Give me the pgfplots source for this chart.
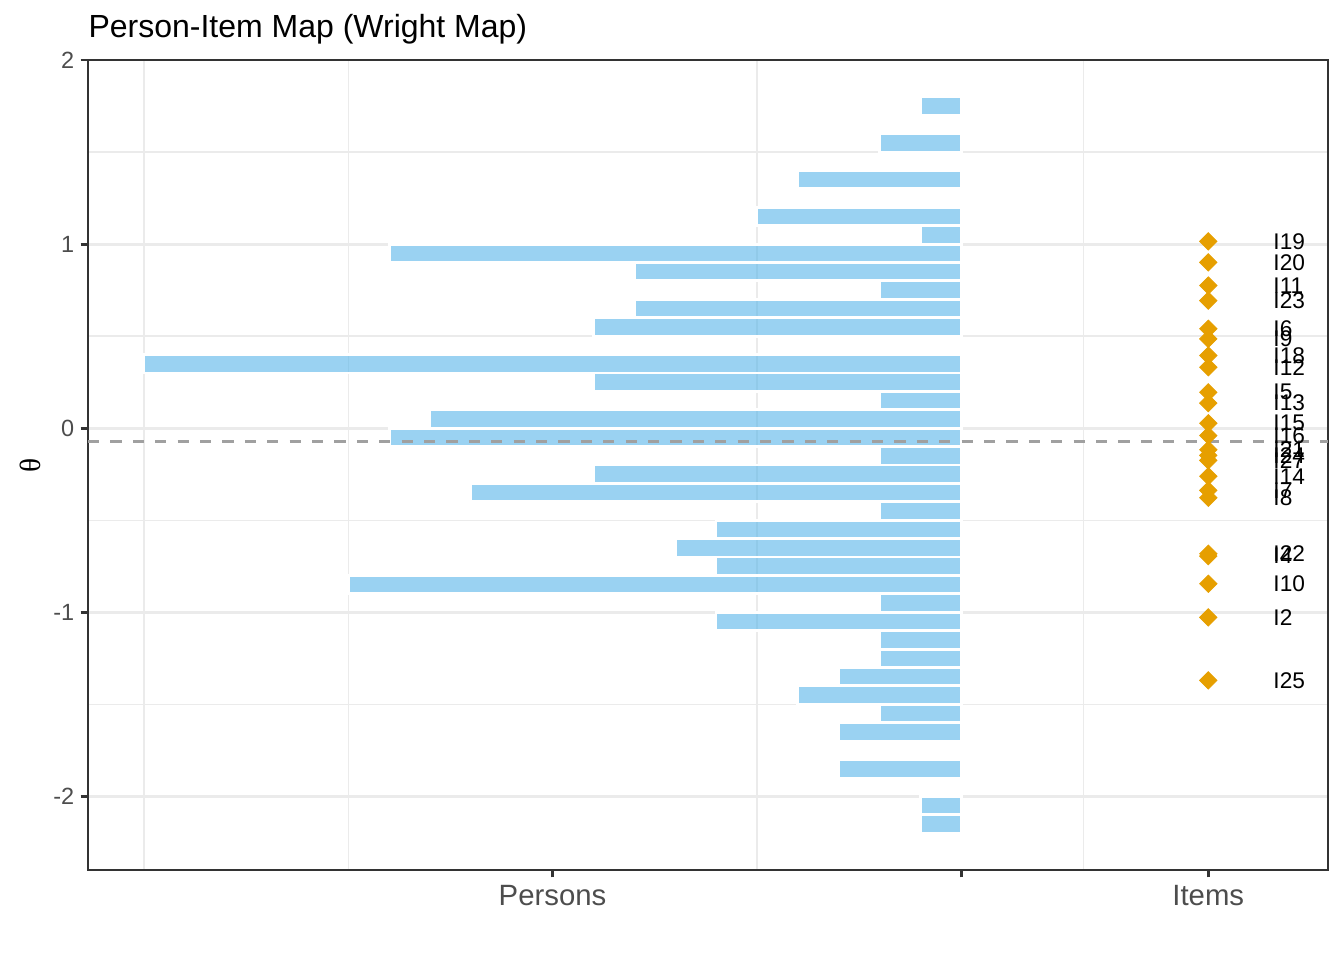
\documentclass[border=0pt]{standalone}
\usepackage{fontspec}
\setmainfont{Liberation Sans}
\newfontfamily\serifgreek{Liberation Serif}
\usepackage{pgfplots}
\usepackage{pgfplotstable}
\pgfplotsset{compat=1.18}
\definecolor{barblue}{HTML}{56B4E9}
\definecolor{itemorange}{HTML}{E69F00}
\definecolor{gridgray}{HTML}{EBEBEB}
\definecolor{grey20}{HTML}{333333}
\definecolor{grey30}{HTML}{4D4D4D}
\definecolor{meangray}{HTML}{A0A0A0}

\pgfplotstableread{
c theta
-1 1.75
-2 1.55
-4 1.35
-5 1.15
-1 1.05
-14 0.95
-8 0.85
-2 0.75
-8 0.65
-9 0.55
-20 0.35
-9 0.25
-2 0.15
-13 0.05
-14 -0.05
-2 -0.15
-9 -0.25
-12 -0.35
-2 -0.45
-6 -0.55
-7 -0.65
-6 -0.75
-15 -0.85
-2 -0.95
-6 -1.05
-2 -1.15
-2 -1.25
-3 -1.35
-4 -1.45
-2 -1.55
-3 -1.65
-3 -1.85
-1 -2.05
-1 -2.15
}\persons

\pgfplotstableread{
x theta label
6.05 1.015 I19
6.05 0.901 I20
6.05 0.775 I11
6.05 0.693 I23
6.05 0.540 I6
6.05 0.485 I9
6.05 0.395 I18
6.05 0.331 I12
6.05 0.195 I5
6.05 0.136 I13
6.05 0.027 I15
6.05 -0.040 I16
6.05 -0.117 I21
6.05 -0.148 I24
6.05 -0.175 I27
6.05 -0.261 I14
6.05 -0.338 I7
6.05 -0.378 I8
6.05 -0.682 I22
6.05 -0.695 I4
6.05 -0.845 I10
6.05 -1.028 I2
6.05 -1.370 I25
}\items

\begin{document}
\begin{tikzpicture}
\useasboundingbox (0,0) rectangle (504pt,360pt);
\begin{axis}[
  at={(33pt,33.75pt)}, anchor=south west,
  scale only axis, width=465pt, height=303.75pt,
  xmin=-21.37, xmax=8.98, ymin=-2.4, ymax=2.0,
  xtick={-10,0,6.05}, xticklabels={Persons,{},Items},
  minor xtick={-20,-15,-5,3},
  ytick={-2,-1,0,1,2}, yticklabels={-2,-1,0,1,2},
  minor ytick={-1.5,-0.5,0.5,1.5},
  xmajorgrids=false, xminorgrids=true,
  ymajorgrids=true, yminorgrids=true,
  major grid style={gridgray, line width=1.07pt},
  minor grid style={gridgray, line width=0.53pt},
  tick align=outside, tick pos=left,
  major tick length=2.75pt, minor tick length=0pt,
  tick style={grey20, line width=1.07pt},
  axis line style={grey20, line width=0.8pt},
  xticklabel style={font=\fontsize{11}{13}\selectfont, text=grey30, inner sep=0pt, anchor=north, yshift=-2.9pt},
  yticklabel style={font=\fontsize{8.8}{10}\selectfont, text=grey30, inner sep=0pt, anchor=east, xshift=-2.2pt},
]
\addplot[xbar, bar width=0.1, fill=barblue, fill opacity=0.6, draw=white, line width=1.07pt]
  table[x=c, y=theta] {\persons};
\addplot[meangray, line width=0.85pt, dash pattern=on 4.2pt off 4.2pt]
  coordinates {(-21.37,-0.072) (8.98,-0.072)};
\addplot[only marks, mark=square*, mark size=2.3pt,
  mark options={rotate=45, fill=itemorange, draw=itemorange, line width=0.3pt},
  nodes near coords, point meta=explicit symbolic,
  nodes near coords style={anchor=west, inner sep=0pt, xshift=24.3pt, font=\fontsize{8.5}{10}\selectfont, text=black}]
  table[x=x, y=theta, meta=label] {\items};
\end{axis}
\node[anchor=base west, inner sep=0pt, font=\fontsize{12}{14}\selectfont] at (33pt,345.9pt) {Person-Item Map (Wright Map)};
\node[rotate=90, inner sep=0pt, font=\serifgreek\fontsize{11}{13}\selectfont] at (11.25pt,185.6pt) {θ};
\end{tikzpicture}
\end{document}
